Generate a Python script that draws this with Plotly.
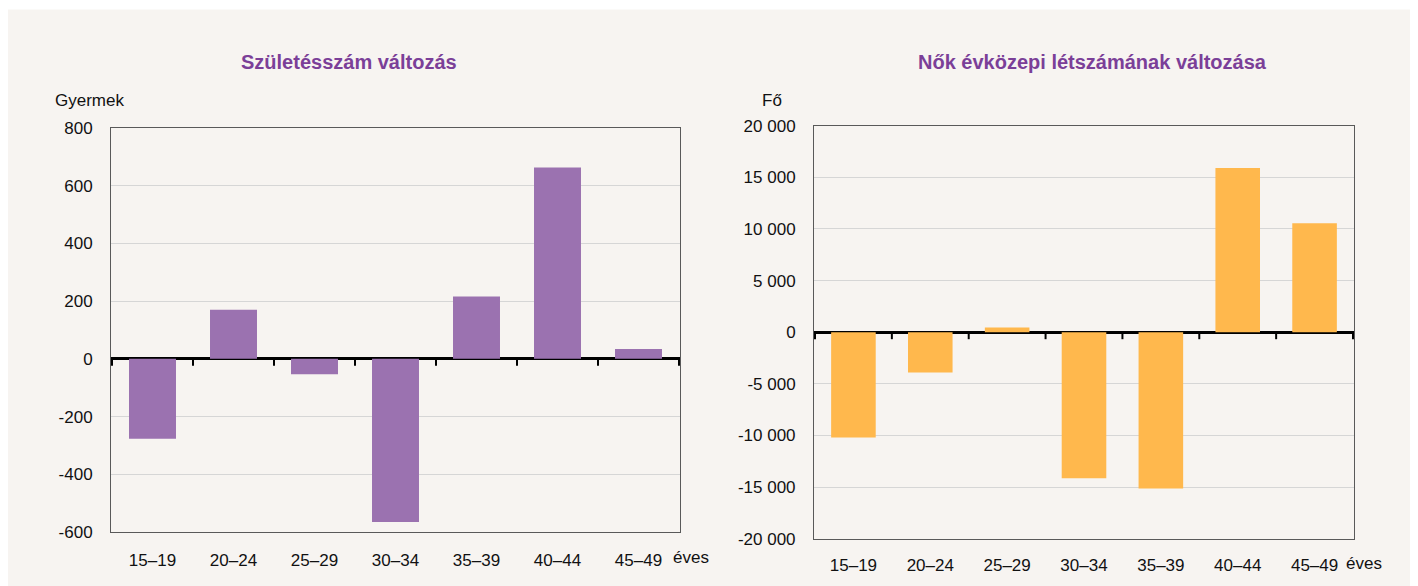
import plotly.graph_objects as go

categories = ["15–19", "20–24", "25–29", "30–34", "35–39", "40–44", "45–49"]
births_change = [-277, 170, -53, -565, 216, 663, 34]
women_change = [-10200, -3900, 450, -14150, -15150, 15900, 10550]

left_ticks = [-600, -400, -200, 0, 200, 400, 600, 800]
right_ticks = [-20000, -15000, -10000, -5000, 0, 5000, 10000, 15000, 20000]

def fmt(v):
    s = f"{abs(v):,}".replace(",", " ")
    return ("-" if v < 0 else "") + s

# page offset of the figure (browser body margin)
OFF = 8
W, H = 1418 - OFF, 586 - OFF
BG = "#F7F4F1"
FONT = "Liberation Sans, Arial, sans-serif"
TITLE_C = "#7B3F98"
TXT = "#111111"

def px_x(p):
    return (p - OFF) / W

def px_y(p):
    return 1 - (p - OFF) / H

fig = go.Figure()
fig.add_trace(go.Bar(x=categories, y=births_change, marker=dict(color="#9B72B0", line=dict(width=0)),
                     width=0.58, xaxis="x", yaxis="y", showlegend=False))
fig.add_trace(go.Bar(x=categories, y=women_change, marker=dict(color="#FFB84D", line=dict(width=0)),
                     width=0.58, xaxis="x2", yaxis="y2", showlegend=False))

common_x = dict(type="category", showgrid=False, ticks="", showline=True, mirror=True,
                linecolor="#595959", linewidth=1, tickfont=dict(family=FONT, size=17, color=TXT),
                automargin=False, fixedrange=True)
common_y = dict(showgrid=True, gridcolor="#D6D6D6", gridwidth=1, showline=True, mirror=True,
                linecolor="#595959", linewidth=1, zeroline=True, zerolinecolor="#000000",
                zerolinewidth=2.5, ticks="", tickfont=dict(family=FONT, size=17, color=TXT),
                ticklabelstandoff=14, automargin=False, fixedrange=True)

fig.update_layout(
    width=W, height=H, autosize=False, paper_bgcolor=BG, plot_bgcolor=BG,
    margin=dict(l=0, r=0, t=0, b=0, pad=0, autoexpand=False),
    xaxis=dict(common_x, domain=[px_x(111), px_x(680)], anchor="y", ticklabelstandoff=13),
    yaxis=dict(common_y, domain=[px_y(532), px_y(128)], anchor="x", range=[-600, 800],
               tickvals=left_ticks, ticktext=[fmt(v) for v in left_ticks]),
    xaxis2=dict(common_x, domain=[px_x(814), px_x(1354)], anchor="y2", ticklabelstandoff=11),
    yaxis2=dict(common_y, domain=[px_y(538.7), px_y(125.7)], anchor="x2", range=[-20000, 20000],
                tickvals=right_ticks, ticktext=[fmt(v) for v in right_ticks]),
)

shapes = []
# thin white frame line near the top of the panel
shapes.append(dict(type="line", xref="paper", yref="paper", x0=0, x1=1, y0=px_y(8.5), y1=px_y(8.5),
                   line=dict(color="#FFFFFF", width=2), layer="below"))
# tick marks on the zero line at category boundaries
for xr, yr in (("x", "y"), ("x2", "y2")):
    for i in range(len(categories) + 1):
        shapes.append(dict(type="line", xref=xr, yref=yr, x0=i - 0.5, x1=i - 0.5,
                           ysizemode="pixel", yanchor=0, y0=0, y1=-7,
                           line=dict(color="#000000", width=2)))
fig.update_layout(shapes=shapes)

def note(text, x, y, size=17, color=TXT, xanchor="left"):
    return dict(text=text, x=px_x(x), y=px_y(y), xref="paper", yref="paper",
                xanchor=xanchor, yanchor="middle", showarrow=False,
                font=dict(family=FONT, size=size, color=color))

ann = [
    note("<b>Születésszám változás</b>", 349, 62, size=20, color=TITLE_C, xanchor="center"),
    note("<b>Nők évközepi létszámának változása</b>", 1092, 62, size=20, color=TITLE_C, xanchor="center"),
    note("Gyermek", 53, 100),
    note("Fő", 760, 100),
    note("éves", 671, 557),
    note("éves", 1344, 563),
]
fig.update_layout(annotations=ann)

fig.write_html("out.html")
